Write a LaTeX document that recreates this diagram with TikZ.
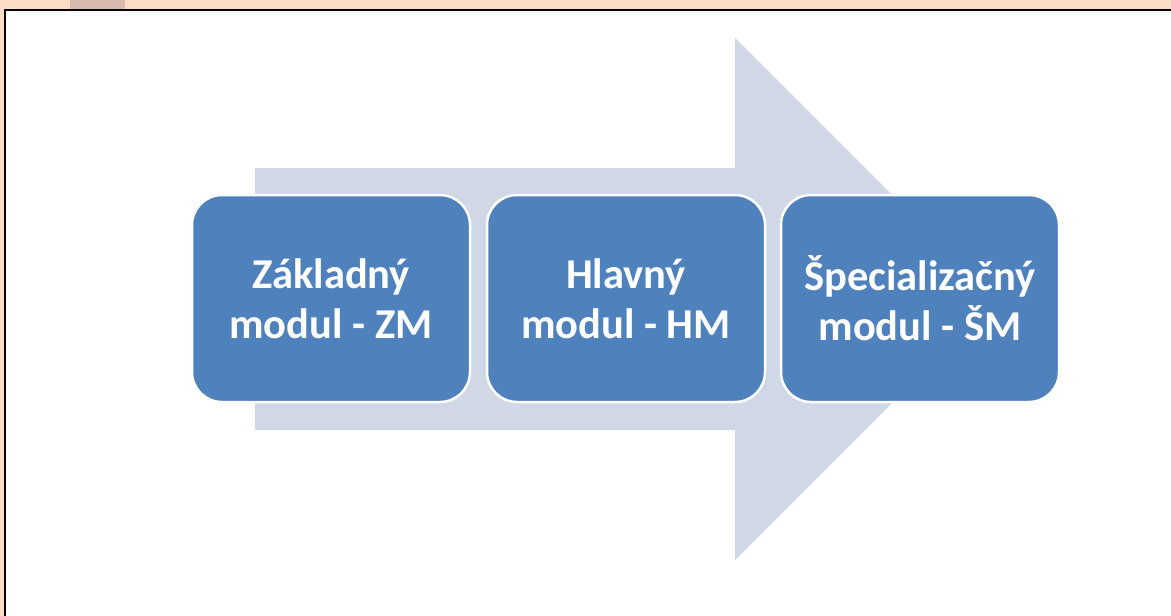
\documentclass[tikz,border=0pt]{standalone}
\usepackage{fontspec}
\setmainfont{Carlito}
\definecolor{peach}{HTML}{FCDCC4}
\definecolor{peachdark}{HTML}{D8BBAE}
\definecolor{arrowfill}{HTML}{D0D8E8}
\definecolor{boxblue}{HTML}{4F81BD}
\tikzset{
  modbox/.style={draw=white, line width=2.5pt, fill=boxblue, rounded corners=30pt,
    minimum width=278pt, minimum height=207pt, inner sep=0pt,
    text=white, font=\fontsize{42.5}{50}\selectfont\bfseries, align=center},
}
\begin{document}
\begin{tikzpicture}[x=1pt,y=-1pt]
\useasboundingbox (0,0) rectangle (1171,616);
% background
\fill[peach] (0,0) rectangle (1171,616);
\fill[peachdark] (70,0) rectangle (125,10);
\draw[fill=white, line width=1.2pt] (5,10) rectangle (1175,620);
% big arrow
\fill[arrowfill] (255,168) -- (735,168) -- (735,38) -- (996,299) -- (735,560) -- (735,430) -- (255,430) -- cycle;
% boxes
\node[modbox] (zm) at (331,298.5) {Základný\\modul - ZM};
\node[modbox] (hm) at (626,298.5) {Hlavný\\modul - HM};
\node[modbox] (sm) at (920,298.5) {Špecializačný\\modul - ŠM};
\end{tikzpicture}
\end{document}
